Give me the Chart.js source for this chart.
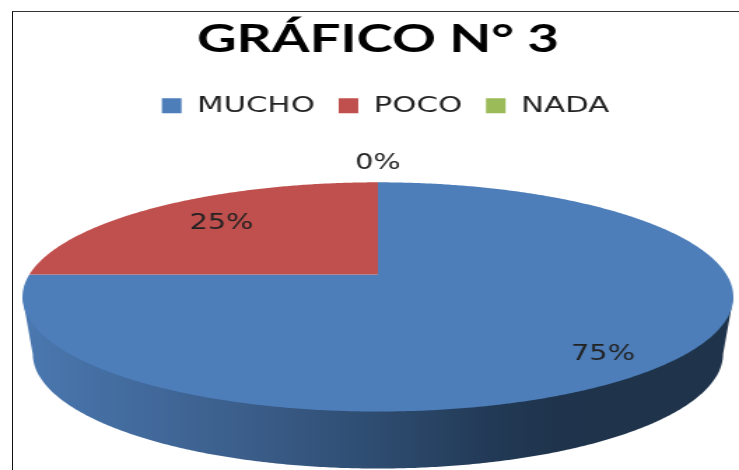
<!DOCTYPE html>
<html lang="es">
<head>
  <meta charset="UTF-8" />
  <title>Gráfico N° 3</title>
  <script src="https://cdn.jsdelivr.net/npm/chart.js"></script>
  <style>
    html, body { margin: 0; background: #fff; overflow: hidden; }
    #frame { position: absolute; left: 12px; top: 11px; right: -5px; bottom: -5px;
             border-left: 1px solid #111; border-top: 1px solid #333; }
    /* the reference is stretched sideways, so the whole canvas is too */
    #pie { position: absolute; left: 0; top: 0; transform-origin: 0 0; transform: scaleX(1.3996); }
  </style>
</head>
<body>
  <div id="frame"></div>
  <canvas id="pie" width="528" height="470"></canvas>

  <script>
    const categories = ['MUCHO', 'POCO', 'NADA'];
    const values = [75, 25, 0];
    const colors = ['#4d7eba', '#c0504d', '#9bbb59'];
    const labelRadii = [0.84, 0.725, 1.29];
    const labelTurns = [0.044, 0.033, 0];

    const PERSPECTIVE = 0.1965;
    const TILT = 0.4425;
    const DEPTH = 57;
    const BASE_SCALE = 0.971;
    const LEGEND_SHIFT = 5.5;
    const LABEL_DROP = 2.5;

    // circle point (u, v) to screen, nearer edge drawn bigger
    function project(c, u, v) {
      const w = 1 - PERSPECTIVE * v;
      return [c.x + c.r * u / w, c.y + c.ry * v / w];
    }

    function tracePath(ctx, pts) {
      ctx.beginPath();
      pts.forEach((p, i) => i ? ctx.lineTo(p[0], p[1]) : ctx.moveTo(p[0], p[1]));
      ctx.closePath();
    }

    function rim(c, from, to) {
      const pts = [];
      const n = Math.max(2, Math.ceil(Math.abs(to - from) * 120));
      for (let i = 0; i <= n; i++) {
        const a = from + (to - from) * i / n;
        pts.push(project(c, Math.cos(a), Math.sin(a)));
      }
      return pts;
    }

    const perspectivePie = {
      id: 'perspectivePie',
      afterLayout(chart) {
        chart.legend.left += LEGEND_SHIFT;
        chart.legend.right += LEGEND_SHIFT;
      },
      beforeDatasetsDraw(chart) {
        const ctx = chart.ctx;
        const arcs = chart.getDatasetMeta(0).data;
        const r = arcs[0].x - chart.chartArea.left;
        const top = { x: arcs[0].x, y: arcs[0].y, r: r, ry: r * TILT };
        const base = { x: top.x, y: top.y + DEPTH, r: r * BASE_SCALE, ry: top.ry };

        // side wall: silhouette between the two rims
        const topRim = rim(top, 0, Math.PI * 2);
        const baseRim = rim(base, 0, Math.PI * 2);
        const xs = topRim.map(p => p[0]);
        const left = topRim[xs.indexOf(Math.min(...xs))];
        const right = topRim[xs.indexOf(Math.max(...xs))];
        const bx = baseRim.map(p => p[0]);
        const baseRight = bx.indexOf(Math.max(...bx));
        const baseLeft = bx.indexOf(Math.min(...bx));
        const wall = [right, ...baseRim.slice(baseRight, baseLeft + 1), left];
        const grad = ctx.createLinearGradient(left[0], 0, right[0], 0);
        grad.addColorStop(0, '#4a78b0');
        grad.addColorStop(0.3, '#3c5f8c');
        grad.addColorStop(0.5, '#2e4c70');
        grad.addColorStop(0.65, '#233b58');
        grad.addColorStop(0.75, '#1f344c');
        grad.addColorStop(1, '#1f334a');
        ctx.fillStyle = grad;
        tracePath(ctx, wall);
        ctx.fill();

        // top face
        arcs.forEach((arc, i) => {
          if (arc.endAngle - arc.startAngle <= 0) return;
          ctx.fillStyle = colors[i];
          const whole = arc.endAngle - arc.startAngle >= Math.PI * 2;
          tracePath(ctx, whole ? rim(top, 0, Math.PI * 2)
            : [[top.x, top.y], ...rim(top, arc.startAngle, arc.endAngle)]);
          ctx.fill();
        });

        // percent labels
        ctx.font = '20.5px "DejaVu Sans"';
        ctx.fillStyle = '#222';
        ctx.textAlign = 'center';
        ctx.textBaseline = 'middle';
        arcs.forEach((arc, i) => {
          const mid = (arc.startAngle + arc.endAngle) / 2 + labelTurns[i];
          const p = project(top, labelRadii[i] * Math.cos(mid), labelRadii[i] * Math.sin(mid));
          ctx.fillText(values[i] + '%', p[0], p[1] + LABEL_DROP);
        });
        return false;
      }
    };

    new Chart(document.getElementById('pie'), {
      type: 'pie',
      data: {
        labels: categories,
        datasets: [{ data: values, backgroundColor: colors, borderWidth: 0 }]
      },
      options: {
        responsive: false,
        animation: false,
        layout: { padding: { left: 21, right: 9, top: 0, bottom: 48 } },
        plugins: {
          tooltip: { enabled: false },
          title: {
            display: true,
            text: 'GRÁFICO N° 3',
            color: '#000',
            font: { family: 'Lato', size: 39, weight: 'bold' },
            padding: { top: 16, bottom: 15 }
          },
          legend: {
            position: 'top',
            labels: {
              color: '#222',
              font: { family: '"DejaVu Sans"', size: 22 },
              boxWidth: 14,
              boxHeight: 15,
              padding: 17
            }
          }
        }
      },
      plugins: [perspectivePie]
    });
  </script>
</body>
</html>
